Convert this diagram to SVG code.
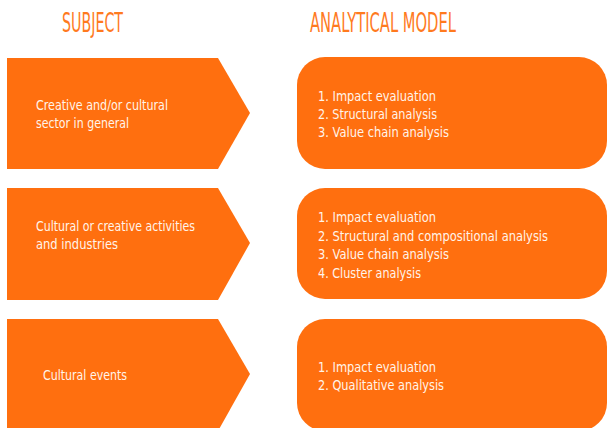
<svg xmlns="http://www.w3.org/2000/svg" width="608" height="428" viewBox="0 0 608 428">
<style>
.bg{fill:#ffffff}
.shape{fill:#FF6F0F}
.title{fill:#FF7A1E;font-family:"DejaVu Sans Condensed","Liberation Sans",sans-serif;font-stretch:condensed;font-size:27px}
.t{fill:#FFF4EA;font-family:"DejaVu Sans Condensed","Liberation Sans",sans-serif;font-stretch:condensed;font-size:14.5px}
</style>
<rect class="bg" x="0" y="0" width="608" height="428"/>
<g id="titles">
<text class="title" x="62" y="32" textLength="61" lengthAdjust="spacingAndGlyphs">SUBJECT</text>
<text class="title" x="310" y="32" textLength="146" lengthAdjust="spacingAndGlyphs">ANALYTICAL MODEL</text>
</g>
<g id="connectors"></g>
<g id="subject1">
<polygon class="shape" points="7,58 218,58 250,113 218,169 7,169"/>
<text class="t" x="36" y="110" textLength="132" lengthAdjust="spacingAndGlyphs">Creative and/or cultural</text>
<text class="t" x="36" y="128" textLength="93" lengthAdjust="spacingAndGlyphs">sector in general</text>
</g>
<g id="model1">
<rect class="shape" x="297" y="57" width="310" height="112" rx="28" ry="28"/>
<text class="t" x="318" y="101" textLength="118" lengthAdjust="spacingAndGlyphs">1. Impact evaluation</text>
<text class="t" x="318" y="119" textLength="119" lengthAdjust="spacingAndGlyphs">2. Structural analysis</text>
<text class="t" x="318" y="137" textLength="131" lengthAdjust="spacingAndGlyphs">3. Value chain analysis</text>
</g>
<g id="subject2">
<polygon class="shape" points="7,188 218,188 250,243 218,300 7,300"/>
<text class="t" x="36" y="231" textLength="159" lengthAdjust="spacingAndGlyphs">Cultural or creative activities</text>
<text class="t" x="36" y="249" textLength="82" lengthAdjust="spacingAndGlyphs">and industries</text>
</g>
<g id="model2">
<rect class="shape" x="297" y="188" width="310" height="111" rx="28" ry="28"/>
<text class="t" x="318" y="222" textLength="118" lengthAdjust="spacingAndGlyphs">1. Impact evaluation</text>
<text class="t" x="318" y="241" textLength="230" lengthAdjust="spacingAndGlyphs">2. Structural and compositional analysis</text>
<text class="t" x="318" y="259" textLength="131" lengthAdjust="spacingAndGlyphs">3. Value chain analysis</text>
<text class="t" x="318" y="278" textLength="103" lengthAdjust="spacingAndGlyphs">4. Cluster analysis</text>
</g>
<g id="subject3">
<polygon class="shape" points="7,319 218,319 250,374 218,431 7,431"/>
<text class="t" x="43" y="380" textLength="84" lengthAdjust="spacingAndGlyphs">Cultural events</text>
</g>
<g id="model3">
<rect class="shape" x="297" y="319" width="310" height="112" rx="28" ry="28"/>
<text class="t" x="318" y="372" textLength="118" lengthAdjust="spacingAndGlyphs">1. Impact evaluation</text>
<text class="t" x="318" y="390" textLength="126" lengthAdjust="spacingAndGlyphs">2. Qualitative analysis</text>
</g>
</svg>
